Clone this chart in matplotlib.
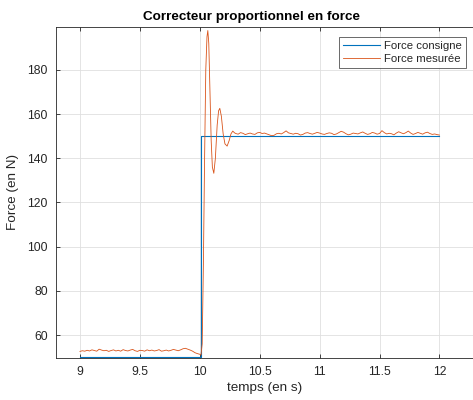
import numpy as np
import matplotlib
matplotlib.use("Agg")
import matplotlib.pyplot as plt

plt.rcParams['font.family'] = ['Liberation Sans', 'DejaVu Sans']

# consigne (step)
consigne_t = [9.0, 10.01, 12.0]
consigne_v = [50, 150, 150]

# mesure avant l'echelon, pas 0.02 s de 9 a 10
avant_v = [52.6, 52.9, 52.7, 53.1, 52.8, 53.3, 53.0, 52.7, 53.6, 53.2,
           52.9, 53.1, 52.6, 53.0, 53.3, 52.8, 53.1, 52.7, 53.4, 53.0,
           52.8, 53.2, 53.5, 52.9, 52.6, 53.1, 53.0, 52.7, 53.3, 52.9,
           53.2, 52.8, 53.0, 53.4, 52.7, 52.9, 53.2, 52.8, 53.1, 53.5,
           53.2, 52.9, 53.3, 53.8, 54.0, 53.6, 53.2, 52.7, 52.0, 51.6,
           51.3]

# regime transitoire
trans_t = [10.01, 10.02, 10.03, 10.04, 10.05, 10.06, 10.067, 10.075, 10.085,
           10.095, 10.105, 10.117, 10.13, 10.145, 10.157, 10.167, 10.18,
           10.195, 10.21, 10.228, 10.245, 10.26, 10.275, 10.29]
trans_v = [51.0, 56.0, 92.0, 140.0, 180.0, 195.0, 197.8, 192.0, 170.0,
           148.0, 136.0, 133.2, 140.0, 155.0, 161.5, 162.6, 159.0,
           151.0, 146.5, 145.5, 148.0, 151.0, 152.3, 151.5]

# regime permanent, pas 0.02 s de 10.30 a 12
apres_v = [151.2, 150.9, 151.6, 151.3, 150.7, 151.1, 151.4, 151.0, 150.8, 151.5,
           151.7, 151.2, 151.4, 151.0, 150.6, 150.2, 150.4, 151.1, 151.3, 151.0,
           151.6, 152.4, 151.5, 151.2, 150.9, 151.3, 151.1, 150.5, 150.8, 151.4,
           151.6, 151.2, 150.9, 151.3, 151.7, 151.4, 151.0, 150.8, 151.2, 151.5,
           151.3, 150.7, 151.0, 151.6, 152.2, 151.8, 151.1, 150.6, 150.9, 151.4,
           151.2, 151.0, 151.5, 151.9, 151.3, 150.8, 151.1, 151.7, 151.4, 150.9,
           151.2, 152.5, 151.6, 151.0, 151.3, 151.1, 150.6, 151.4, 152.0, 151.5,
           151.1, 151.6, 152.3, 151.4, 150.8, 151.2, 151.7, 151.3, 150.9, 151.5,
           151.8, 151.2, 150.8, 151.0, 150.7, 150.5]

avant_t = np.linspace(9.0, 10.0, len(avant_v))
apres_t = np.linspace(10.30, 12.0, len(apres_v))
mesure_t = np.concatenate([avant_t, trans_t, apres_t])
mesure_v = np.concatenate([avant_v, trans_v, apres_v])

dark = '#262626'
fig = plt.figure(figsize=(4.73, 4.0), dpi=100)
ax = fig.add_axes([56 / 473, 1 - 357.7 / 400, 1 - 56 / 473, (357.7 - 27) / 400])

ax.plot(consigne_t, consigne_v, drawstyle='steps-post', color='#0072BD',
        lw=0.8, label='Force consigne')
ax.plot(mesure_t, mesure_v, color='#D95319', lw=0.6, label='Force mesurée')

ax.set_xlim(8.8, 12.28)
ax.set_ylim(49.75, 199.4)
ax.set_xticks([9, 9.5, 10, 10.5, 11, 11.5, 12])
ax.set_xticklabels(['9', '9.5', '10', '10.5', '11', '11.5', '12'])
ax.set_yticks(range(60, 181, 20))

ax.grid(True, color='#dfdfdf', lw=0.6)
ax.set_axisbelow(True)
ax.tick_params(direction='in', length=3, width=0.6, colors=dark,
               labelsize=8.8, top=True, pad=6)
for s in ['left', 'bottom', 'top']:
    ax.spines[s].set_color(dark)
    ax.spines[s].set_linewidth(0.6)
ax.spines['right'].set_visible(False)

ax.set_xlabel('temps (en s)', fontsize=9.7, color=dark, labelpad=3)
ax.set_ylabel('Force (en N)', fontsize=9.7, color=dark, labelpad=6)
ax.set_title('Correcteur proportionnel en force', fontsize=9.7,
             fontweight='bold', color='black', x=(251 - 56) / 417, pad=5)

leg = ax.legend(loc='upper right', bbox_to_anchor=(466 / 473, 1 - 37 / 400),
                bbox_transform=fig.transFigure, fontsize=8.2, fancybox=False,
                handlelength=3.3, handletextpad=0.35, borderpad=0.35,
                labelspacing=0.25, borderaxespad=0)
leg.get_frame().set_edgecolor(dark)
leg.get_frame().set_linewidth(0.6)
for t in leg.get_texts():
    t.set_color(dark)

fig.savefig('out.png', dpi=100)
